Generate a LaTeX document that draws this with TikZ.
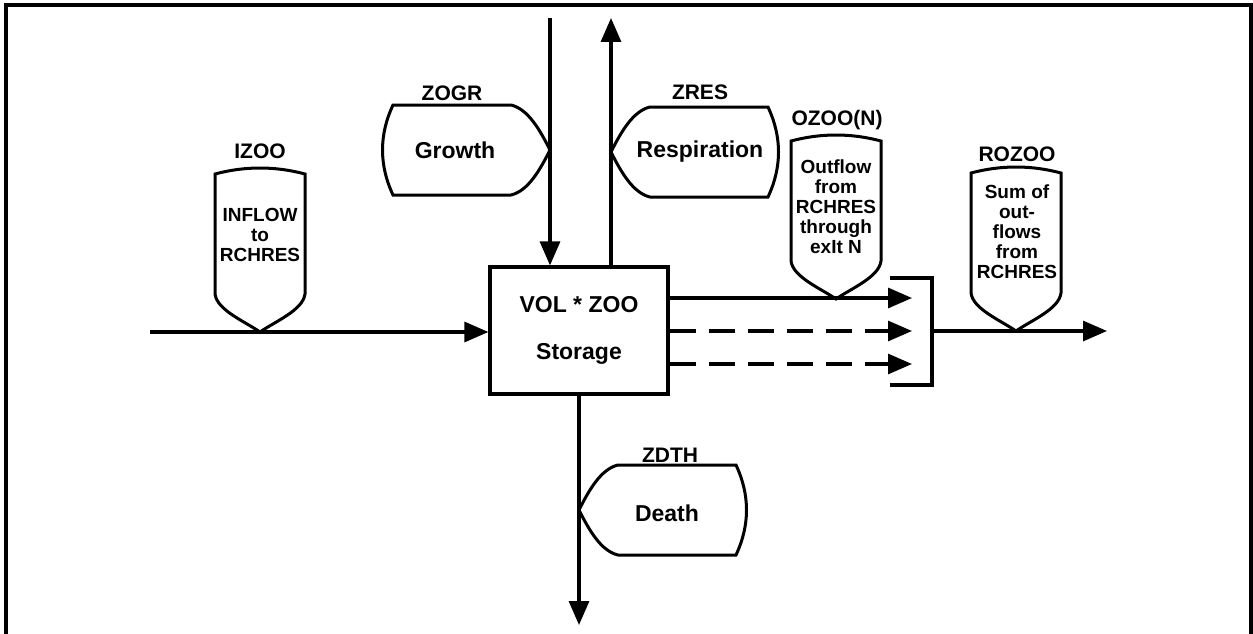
\documentclass[tikz,border=0pt]{standalone}
\usepackage{fontspec}
\setmainfont{Liberation Sans}
\usetikzlibrary{arrows.meta}

\tikzset{
  flow/.style={line width=3.2pt, -{Triangle[length=24pt,width=20pt]}},
  tagline/.style={line width=3pt},
  lbl/.style={font=\fontsize{21}{24}\selectfont\bfseries},
  tagtxt/.style={font=\fontsize{19}{20}\selectfont\bfseries, align=center, inner sep=0pt},
  bigtxt/.style={font=\fontsize{23}{26}\selectfont\bfseries},
  % tag standing on a line, point at the origin
  vtag/.pic={
    \draw[tagline] (0,0) .. controls (-16,-11) and (-43,-22) .. (-45,-38) -- (-45,-158)
      .. controls (-15,-166) and (15,-166) .. (45,-158) -- (45,-38)
      .. controls (43,-22) and (16,-11) .. (0,0) -- cycle;
  },
  % tag lying against a line, point at the origin, body to the right
  htag/.pic={
    \draw[tagline] (0,0) .. controls (10,-20) and (22,-41) .. (39,-45) -- (157,-45)
      .. controls (171,-15) and (171,15) .. (157,45) -- (39,45)
      .. controls (22,41) and (10,20) .. (0,0) -- cycle;
  }
}

\begin{document}
\begin{tikzpicture}[x=1pt, y=-1pt]
    \useasboundingbox (0,0) rectangle (1253,634);

    % frame, open at the bottom
    \draw[line width=3.2pt] (6,634) -- (6,5) -- (1251,5) -- (1251,634);

    % storage box
    \node[draw, line width=3.2pt, minimum width=178pt, minimum height=127pt,
          bigtxt, align=center] (stor) at (579,330.5) {VOL * ZOO\\[21pt]Storage};

    % end points of the flows
    \coordinate (inl) at (150,332);
    \coordinate (gtop) at (550,18);
    \coordinate (rtop) at (611,18);
    \coordinate (dbot) at (579,625);
    \coordinate (o1) at (912,298);
    \coordinate (o2) at (912,331);
    \coordinate (o3) at (912,364);
    \coordinate (out) at (1107,331);

    % flows in and out of the box
    \draw[flow] (inl) -- (inl -| stor.west);
    \draw[flow] (gtop) -- (gtop |- stor.north);
    \draw[flow] (rtop |- stor.north) -- (rtop);
    \draw[flow] (stor.south) -- (dbot);
    \draw[flow] (o1 -| stor.east) -- (o1);
    \draw[flow, dash pattern=on 26pt off 13pt] (o2 -| stor.east) -- (o2);
    \draw[flow, dash pattern=on 26pt off 13pt] (o3 -| stor.east) -- (o3);

    % bracket gathering the exits
    \draw[line width=3.2pt] (890,278) -- (932,278) -- (932,385) -- (890,385);
    \coordinate (brk) at (932,331);
    \draw[flow] (brk) -- (out);

    % inflow tag
    \pic at (260,332) {vtag};
    \node[lbl] (izoo) at (260,151) {IZOO};
    \node[tagtxt] (inflowtxt) at (260,235) {INFLOW\\to\\RCHRES};

    % growth tag
    \pic[xscale=-1] at (550,150) {htag};
    \node[lbl] (zogr) at (452,93) {ZOGR};
    \node[bigtxt] (growth) at (455,150) {Growth};

    % respiration tag
    \pic at (611,152) {htag};
    \node[lbl] (zres) at (700,92) {ZRES};
    \node[bigtxt] (resp) at (700,152) {Respiration};

    % death tag
    \pic at (579,510) {htag};
    \node[lbl] (zdth) at (670,455) {ZDTH};
    \node[bigtxt] (death) at (667,513) {Death};

    % outflow through exit N
    \pic at (836,299) {vtag};
    \node[lbl] (ozoo) at (837,120) {OZOO(N)};
    \node[tagtxt] (exittxt) at (836,207) {Outflow\\from\\RCHRES\\through\\exIt N};

    % total outflow
    \pic at (1016,331) {vtag};
    \node[lbl] (rozoo) at (1017,154) {ROZOO};
    \node[tagtxt] (sumtxt) at (1017,232) {Sum of\\out-\\flows\\from\\RCHRES};
\end{tikzpicture}
\end{document}
